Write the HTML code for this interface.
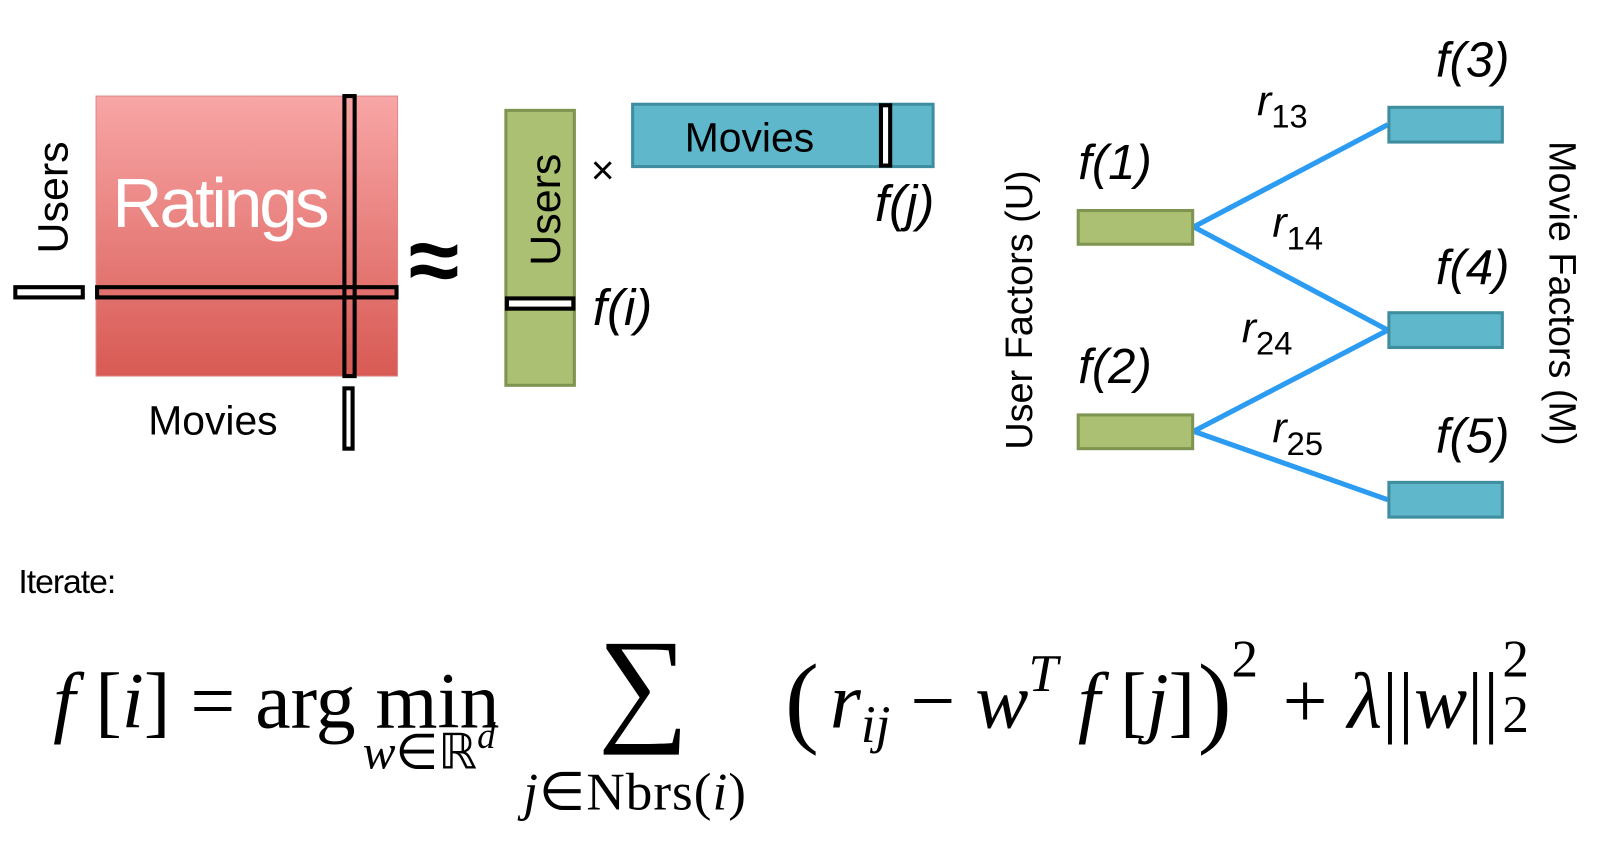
<!DOCTYPE html>
<html><head><meta charset="utf-8"><style>
html,body{margin:0;padding:0;background:#fff;}
svg{display:block;}
text{font-family:"Liberation Sans",sans-serif;}
</style></head><body>
<svg width="1600" height="863" viewBox="0 0 1600 863" xmlns="http://www.w3.org/2000/svg">
<defs>
<linearGradient id="rg" x1="0" y1="0" x2="0" y2="1">
<stop offset="0" stop-color="#f8a6a6"/><stop offset="1" stop-color="#d85a54"/>
</linearGradient>
</defs>
<g transform="scale(1.022)">
<!-- Ratings matrix -->
<rect x="94" y="94" width="295" height="274" fill="url(#rg)" stroke="#d88" stroke-width="1"/>
<text x="110" y="222" font-size="68" fill="#fff" letter-spacing="-3">Ratings</text>
<rect x="337" y="94" width="10" height="274" fill="none" stroke="#000" stroke-width="4"/>
<rect x="95" y="281" width="293" height="10" fill="none" stroke="#000" stroke-width="4"/>
<rect x="15" y="281" width="66" height="10" fill="#fff" stroke="#000" stroke-width="4"/>
<rect x="337" y="380" width="8" height="59" fill="#fff" stroke="#000" stroke-width="4"/>
<text transform="translate(66,248) rotate(-90)" font-size="42">Users</text>
<text x="145" y="425" font-size="40">Movies</text>
<text x="400" y="285" font-size="90" font-weight="bold">≈</text>
<!-- user factors column -->
<rect x="495" y="108" width="67" height="269" fill="#abc072" stroke="#7f9450" stroke-width="3"/>
<text transform="translate(548,260) rotate(-90)" font-size="42">Users</text>
<rect x="496" y="292" width="65" height="10" fill="#fff" stroke="#000" stroke-width="4"/>
<text x="580" y="318" font-size="50" font-style="italic">f(i)</text>
<text x="578" y="180" font-size="40">×</text>
<!-- movie factors row -->
<rect x="619" y="102" width="294" height="61" fill="#5fb7cc" stroke="#3f8ea0" stroke-width="3"/>
<text x="670" y="148" font-size="40">Movies</text>
<rect x="862" y="103" width="9" height="59" fill="#fff" stroke="#000" stroke-width="4"/>
<text x="856" y="216" font-size="50" font-style="italic">f(j)</text>
<!-- graph -->
<g stroke="#2b9cf2" stroke-width="5" fill="none">
<line x1="1168" y1="222" x2="1358" y2="122"/>
<line x1="1168" y1="222" x2="1358" y2="323"/>
<line x1="1168" y1="422" x2="1358" y2="323"/>
<line x1="1168" y1="422" x2="1358" y2="489"/>
</g>
<g fill="#abc072" stroke="#7f9450" stroke-width="3">
<rect x="1055" y="206" width="112" height="33"/>
<rect x="1055" y="406" width="112" height="33"/>
</g>
<g fill="#5fb7cc" stroke="#3f8ea0" stroke-width="3">
<rect x="1359" y="105" width="111" height="34"/>
<rect x="1359" y="306" width="111" height="34"/>
<rect x="1359" y="472" width="111" height="34"/>
</g>
<g font-size="48" font-style="italic">
<text x="1055" y="175">f(1)</text>
<text x="1055" y="375">f(2)</text>
<text x="1405" y="75">f(3)</text>
<text x="1405" y="278">f(4)</text>
<text x="1405" y="443">f(5)</text>
</g>
<g font-size="42" font-style="italic">
<text x="1230" y="113">r<tspan font-size="32" dy="12" font-style="normal">13</tspan></text>
<text x="1245" y="232">r<tspan font-size="32" dy="12" font-style="normal">14</tspan></text>
<text x="1215" y="335">r<tspan font-size="32" dy="12" font-style="normal">24</tspan></text>
<text x="1245" y="433">r<tspan font-size="32" dy="12" font-style="normal">25</tspan></text>
</g>
<text transform="translate(1010,440) rotate(-90)" font-size="37">User Factors (U)</text>
<text transform="translate(1516,138) rotate(90)" font-size="37">Movie Factors (M)</text>
<!-- Iterate -->
<text x="18" y="580" font-size="33" letter-spacing="-1">Iterate:</text>
<!-- formula -->
<g style="font-family:'Liberation Serif',serif" font-size="78">
<text style="font-family:'Liberation Serif',serif" x="52" y="712"><tspan font-style="italic">f</tspan> [<tspan font-style="italic">i</tspan>] = arg min</text>
<text style="font-family:'Liberation Serif',serif" x="355" y="752" font-size="48"><tspan font-style="italic">w</tspan>∈ℝ<tspan font-style="italic" font-size="36" dy="-20">d</tspan></text>
<text style="font-family:'Liberation Serif',serif" x="585" y="712" font-size="125">∑</text>
<text style="font-family:'Liberation Serif',serif" x="512" y="792" font-size="52" letter-spacing="1"><tspan font-style="italic">j</tspan>∈Nbrs(<tspan font-style="italic">i</tspan>)</text>
<text style="font-family:'Liberation Serif',serif" x="768" y="718" font-size="100">(</text>
<text style="font-family:'Liberation Serif',serif" x="812" y="712"><tspan font-style="italic">r</tspan><tspan font-style="italic" font-size="52" dy="14">ij</tspan><tspan dy="-14"> − </tspan><tspan font-style="italic">w</tspan><tspan font-style="italic" font-size="52" dy="-36">T</tspan><tspan font-style="italic" dy="36"> f</tspan> [<tspan font-style="italic">j</tspan>]</text>
<text style="font-family:'Liberation Serif',serif" x="1172" y="718" font-size="100">)</text>
<text style="font-family:'Liberation Serif',serif" x="1205" y="662" font-size="52">2</text>
<text style="font-family:'Liberation Serif',serif" x="1255" y="712">+ <tspan font-style="italic">λ</tspan>||<tspan font-style="italic">w</tspan>||</text>
<text style="font-family:'Liberation Serif',serif" x="1470" y="662" font-size="52">2</text>
<text style="font-family:'Liberation Serif',serif" x="1470" y="716" font-size="52">2</text>
</g>
</g>
</svg>
</body></html>
